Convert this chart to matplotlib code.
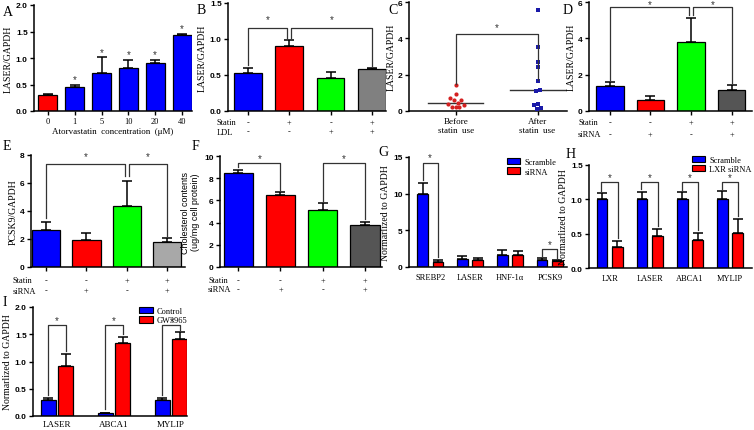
import matplotlib
matplotlib.use('Agg')
import matplotlib.pyplot as plt
import numpy as np
from matplotlib.patches import Patch

SERIF = 'Liberation Serif'
SANS = 'Liberation Sans'
plt.rcParams['font.family'] = [SANS, 'DejaVu Sans']
plt.rcParams['font.weight'] = 'bold'

BLUE = '#0000ff'; RED = '#ff0000'; GREEN = '#00ff00'
GRAY = '#808080'; DGRAY = '#555555'; LGRAY = '#a8a8a8'

# ---------------- data ----------------
a_labels = ['0', '1', '5', '10', '20', '40']
a_vals = [0.31, 0.45, 0.72, 0.82, 0.91, 1.44]
a_err = [0.01, 0.04, 0.29, 0.15, 0.05, 0.02]

b_vals = [0.53, 0.90, 0.46, 0.59]
b_err = [0.07, 0.08, 0.08, 0.01]
b_statin = ['-', '+', '-', '+']
b_ldl = ['-', '-', '+', '+']

c_before = [1.42, 0.92, 0.70, 0.58, 0.62, 0.40, 0.45, 0.35, 0.24, 0.20, 0.22]
c_before_jit = [0.0, 0.0, -0.09, -0.03, 0.08, -0.12, 0.03, 0.13, -0.06, 0.0, 0.06]
c_before_med = 0.46
c_after = [5.55, 3.52, 2.68, 2.40, 1.65, 1.17, 1.08, 0.40, 0.31, 0.15, 0.10]
c_after_jit = [0.0, 0.0, 0.0, 0.0, 0.0, 0.04, -0.03, 0.0, -0.06, 0.06, -0.01]
c_after_med = 1.17
c_labels = ['Before\nstatin  use', 'After\nstatin  use']

d_vals = [1.35, 0.62, 3.80, 1.18]
d_err = [0.25, 0.20, 1.30, 0.27]
e_vals = [2.61, 1.90, 4.39, 1.78]
e_err = [0.59, 0.52, 1.74, 0.31]
f_vals = [8.48, 6.45, 5.16, 3.82]
f_err = [0.27, 0.27, 0.57, 0.27]
sirna_statin = ['-', '-', '+', '+']
sirna_sirna = ['-', '+', '-', '+']

g_labels = ['SREBP2', 'LASER', 'HNF-1\u03b1', 'PCSK9']
g_scr = [9.9, 1.14, 1.68, 0.92]
g_scr_err = [1.5, 0.36, 0.58, 0.32]
g_si = [0.70, 1.00, 1.68, 0.77]
g_si_err = [0.30, 0.27, 0.50, 0.14]

h_labels = ['LXR', 'LASER', 'ABCA1', 'MYLIP']
h_scr = [1.0, 1.0, 1.0, 1.0]
h_scr_err = [0.087, 0.113, 0.10, 0.115]
h_si = [0.31, 0.46, 0.415, 0.507]
h_si_err = [0.09, 0.105, 0.10, 0.205]

i_labels = ['LASER', 'ABCA1', 'MYLIP']
i_ctl = [0.30, 0.05, 0.30]
i_ctl_err = [0.025, 0.012, 0.022]
i_gw = [0.92, 1.335, 1.415]
i_gw_err = [0.215, 0.12, 0.12]

# ---------------- helpers ----------------
W, H = 754, 431
fig = plt.figure(figsize=(W / 100, H / 100), dpi=100)


def add_ax(x0, x1, y0, y1):
    return fig.add_axes([x0 / W, 1 - y1 / H, (x1 - x0) / W, (y1 - y0) / H])


def style(ax):
    for s in ['top', 'right']:
        ax.spines[s].set_visible(False)
    for s in ['left', 'bottom']:
        ax.spines[s].set_linewidth(1.1)
    ax.tick_params(axis='both', direction='out', length=3, width=1.0,
                   labelsize=6, pad=1.5)


def bars(ax, x, vals, err, colors, width):
    ax.bar(x, vals, width, color=colors, edgecolor='black', linewidth=0.9, zorder=2)
    ax.errorbar(x, vals, yerr=[np.zeros(len(vals)), err], fmt='none',
                ecolor='black', elinewidth=1.1, capsize=3.5, capthick=1.1, zorder=1)


def bracket(ax, x1, x2, y, y1, y2, star=True, sy=None, sx=None):
    ax.plot([x1, x1, x2, x2], [y1, y, y, y2], color='#333333', lw=0.9,
            zorder=3, clip_on=False)
    if star:
        ax.text((x1 + x2) / 2 if sx is None else sx, sy, '*', ha='center',
                va='center', fontsize=7, fontweight='normal', color='#333333',
                clip_on=False)


def ylab(ax, text, pad=2):
    ax.set_ylabel(text, fontfamily=SERIF, fontweight='normal', fontsize=7, labelpad=pad)


def table(ax, rows, names, label_x, ys, x):
    for name, row, yy in zip(names, rows, ys):
        ax.text(label_x, yy, name, transform=ax.transAxes, ha='left', va='center',
                fontfamily=SERIF, fontweight='normal', fontsize=6)
        for xi, s in zip(x, row):
            ax.text(xi, yy, s, transform=ax.get_xaxis_transform(), ha='center',
                    va='center', fontfamily=SERIF, fontweight='normal', fontsize=6)


def serif_xt(ax, x, labels, size=6):
    ax.set_xticks(x)
    ax.set_xticklabels(labels, fontfamily=SERIF, fontweight='normal', fontsize=size)


def legend(ax, labels, colors, xy):
    handles = [Patch(facecolor=c, edgecolor='black', linewidth=0.8) for c in colors]
    ax.legend(handles, labels, loc='upper left', bbox_to_anchor=xy, frameon=False,
              prop={'family': SERIF, 'size': 6, 'weight': 'normal'},
              handlelength=1.6, handleheight=0.8, handletextpad=0.5,
              labelspacing=0.15, borderaxespad=0, borderpad=0)


def panel(x, y, s):
    fig.text(x / W, 1 - y / H, s, fontfamily=SERIF, fontweight='normal',
             fontsize=10, ha='left', va='center')


# ---------------- A ----------------
ax = add_ax(34, 192, 6, 112)
style(ax)
xa = np.arange(len(a_vals))
bars(ax, xa, a_vals, a_err, [RED] + [BLUE] * 5, 0.71)
for xi, v, e in list(zip(xa, a_vals, a_err))[1:]:
    ax.text(xi, v + e + 0.11, '*', ha='center', va='center', fontsize=7,
            fontweight='normal', color='#333333')
ax.set_xlim(-0.52, 5.37)
ax.set_ylim(0, 2.0)
ax.set_yticks([0, 0.5, 1.0, 1.5, 2.0])
ax.set_yticklabels(['0.0', '0.5', '1.0', '1.5', '2.0'])
serif_xt(ax, xa, a_labels)
ax.set_xlabel('Atorvastatin  concentration  (\u03bcM)', fontfamily=SERIF,
              fontweight='normal', fontsize=6.5, labelpad=1)
ylab(ax, 'LASER/GAPDH')

# ---------------- B ----------------
ax = add_ax(228, 386, 4, 112)
style(ax)
xb = np.arange(4)
bars(ax, xb, b_vals, b_err, [BLUE, RED, GREEN, GRAY], 0.67)
bracket(ax, 0, 0.95, 1.15, 0.64, 1.02, sy=1.27)
bracket(ax, 1.05, 3, 1.15, 1.02, 0.62, sy=1.27)
ax.set_xlim(-0.48, 3.34)
ax.set_ylim(0, 1.5)
ax.set_yticks([0, 0.5, 1.0, 1.5])
ax.set_yticklabels(['0.0', '0.5', '1.0', '1.5'])
ax.set_xticks(xb)
ax.set_xticklabels([])
table(ax, [b_statin, b_ldl], ['Statin', 'LDL'], -0.07, [-0.10, -0.19], xb)
ylab(ax, 'LASER/GAPDH')

# ---------------- C ----------------
ax = add_ax(409, 567, 3, 112)
style(ax)
ax.scatter(np.array(c_before_jit) * 0.75, c_before, s=9, color='#d42020',
           marker='o', zorder=3, linewidths=0)
ax.scatter(1 + np.array(c_after_jit) * 0.75, c_after, s=9, color='#1a1aa8',
           marker='s', zorder=3, linewidths=0)
ax.plot([-0.34, 0.34], [c_before_med] * 2, color='#333333', lw=1.0)
ax.plot([1 - 0.34, 1 + 0.34], [c_after_med] * 2, color='#333333', lw=1.0, clip_on=False)
bracket(ax, 0, 1, 4.25, 1.5, 1.7, sy=4.6)
ax.set_xlim(-0.57, 1.36)
ax.set_ylim(0, 6)
ax.set_yticks([0, 2, 4, 6])
serif_xt(ax, [0, 1], c_labels, size=6.5)
ylab(ax, 'LASER/GAPDH')

# ---------------- D ----------------
ax = add_ax(589, 752, 3, 112)
style(ax)
xd = np.arange(4)
bars(ax, xd, d_vals, d_err, [BLUE, RED, GREEN, DGRAY], 0.68)
bracket(ax, 0, 1.95, 5.75, 1.7, 5.3, sy=5.88)
bracket(ax, 2.05, 3, 5.75, 5.3, 1.55, sy=5.88)
ax.set_xlim(-0.51, 3.5)
ax.set_ylim(0, 6)
ax.set_yticks([0, 2, 4, 6])
ax.set_xticks(xd)
ax.set_xticklabels([])
table(ax, [sirna_statin, sirna_sirna], ['Statin', 'siRNA'], -0.067, [-0.10, -0.21], xd)
ylab(ax, 'LASER/GAPDH')

# ---------------- E ----------------
ax = add_ax(31, 185, 156, 268)
style(ax)
xe = np.arange(4)
bars(ax, xe, e_vals, e_err, [BLUE, RED, GREEN, LGRAY], 0.70)
bracket(ax, 0, 1.95, 7.35, 3.5, 6.5, sy=7.9)
bracket(ax, 2.05, 3, 7.35, 6.5, 2.25, sy=7.9)
ax.set_xlim(-0.37, 3.44)
ax.set_ylim(0, 8)
ax.set_yticks([0, 2, 4, 6, 8])
ax.set_xticks(xe)
ax.set_xticklabels([])
table(ax, [sirna_statin, sirna_sirna], ['Statin', 'siRNA'], -0.117, [-0.12, -0.21], xe)
ylab(ax, 'PCSK9/GAPDH')

# ---------------- F ----------------
ax = add_ax(220, 382, 157, 268)
style(ax)
xf = np.arange(4)
bars(ax, xf, f_vals, f_err, [BLUE, RED, GREEN, DGRAY], 0.69)
bracket(ax, 0, 1, 9.35, 9.05, 6.9, sy=9.85)
bracket(ax, 2, 3, 9.35, 5.95, 4.3, sy=9.85)
ax.set_xlim(-0.43, 3.4)
ax.set_ylim(0, 10)
ax.set_yticks([0, 2, 4, 6, 8, 10])
ax.set_xticks(xf)
ax.set_xticklabels([])
table(ax, [sirna_statin, sirna_sirna], ['Statin', 'siRNA'], -0.074, [-0.12, -0.20], xf)
ax.set_ylabel('Cholesterol contents\n(ug/mg cell protein)', fontfamily=SANS,
              fontweight='normal', fontsize=6.5, labelpad=3, linespacing=1.1)

# ---------------- G ----------------
ax = add_ax(409, 567, 158, 268)
style(ax)
xg = np.arange(4)
bars(ax, xg - 0.19, g_scr, g_scr_err, BLUE, 0.26)
bars(ax, xg + 0.19, g_si, g_si_err, RED, 0.26)
bracket(ax, -0.19, 0.19, 14.2, 11.9, 1.3, sy=15.0)
bracket(ax, 2.81, 3.19, 2.4, 1.5, 1.1, sy=3.1)
ax.set_xlim(-0.53, 3.43)
ax.set_ylim(0, 15)
ax.set_yticks([0, 5, 10, 15])
serif_xt(ax, xg, g_labels)
ax.tick_params(axis='x', length=0, pad=4)
ylab(ax, 'Normarlized to GAPDH')
legend(ax, ['Scramble', 'siRNA'], [BLUE, RED], (0.62, 0.99))

# ---------------- H ----------------
ax = add_ax(589, 752, 166, 269)
style(ax)
xh = np.arange(4)
bars(ax, xh - 0.19, h_scr, h_scr_err, BLUE, 0.26)
bars(ax, xh + 0.19, h_si, h_si_err, RED, 0.26)
for xi, s, se, r, re in zip(xh, h_scr, h_scr_err, h_si, h_si_err):
    bracket(ax, xi - 0.21, xi + 0.21, 1.255, s + se + 0.04, r + re + 0.04, sy=1.32)
ax.set_xlim(-0.52, 3.55)
ax.set_ylim(0, 1.5)
ax.set_yticks([0, 0.5, 1.0, 1.5])
ax.set_yticklabels(['0.0', '0.5', '1.0', '1.5'])
serif_xt(ax, xh, h_labels)
ax.tick_params(axis='x', length=0, pad=4)
ylab(ax, 'Normarlized to GAPDH')
legend(ax, ['Scramble', 'LXR siRNA'], [BLUE, RED], (0.63, 1.09))

# ---------------- I ----------------
ax = add_ax(33, 187, 308, 417)
style(ax)
xi_ = np.arange(3)
bars(ax, xi_ - 0.15, i_ctl, i_ctl_err, BLUE, 0.25)
bars(ax, xi_ + 0.15, i_gw, i_gw_err, RED, 0.25)
bracket(ax, -0.15, 0.15, 1.67, 0.38, 1.2, sy=1.76)
bracket(ax, 0.85, 1.15, 1.67, 0.12, 1.50, sy=1.76)
bracket(ax, 1.85, 2.15, 1.67, 0.38, 1.58, sy=1.74, sx=2.02)
ax.set_xlim(-0.42, 2.28)
ax.set_ylim(0, 2.0)
ax.set_yticks([0, 0.5, 1.0, 1.5, 2.0])
ax.set_yticklabels(['0.0', '0.5', '1.0', '1.5', '2.0'])
serif_xt(ax, xi_, i_labels, size=6.5)
ax.tick_params(axis='x', length=0, pad=3)
ylab(ax, 'Normarlized to GAPDH')
legend(ax, ['Control', 'GW3965'], [BLUE, RED], (0.69, 1.0))

# ---------------- panel letters ----------------
panel(3, 12, 'A')
panel(197, 10, 'B')
panel(388, 11, 'C')
panel(563, 10, 'D')
panel(3, 146, 'E')
panel(192, 146, 'F')
panel(378, 153, 'G')
panel(566, 155, 'H')
panel(3, 302, 'I')

fig.savefig('out.png', dpi=100)
